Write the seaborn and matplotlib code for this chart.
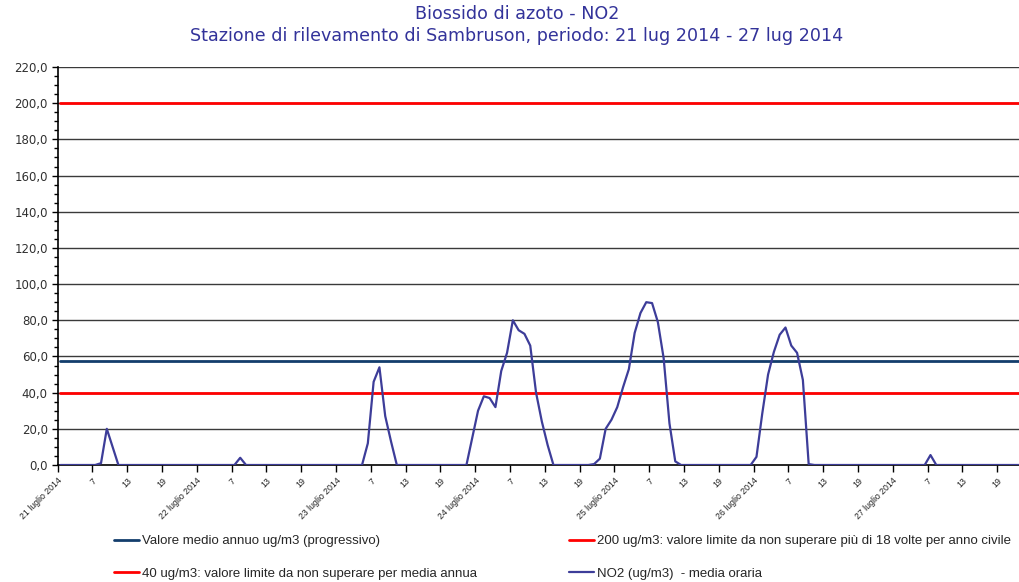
import numpy as np
import matplotlib
matplotlib.use("Agg")
import matplotlib.pyplot as plt
import seaborn as sns
from matplotlib.ticker import MultipleLocator, FixedLocator, FuncFormatter

# ---------------- data ----------------
title_1 = "Biossido di azoto - NO2"
title_2 = "Stazione di rilevamento di Sambruson, periodo: 21 lug 2014 - 27 lug 2014"

days = ["21 luglio 2014", "22 luglio 2014", "23 luglio 2014", "24 luglio 2014",
        "25 luglio 2014", "26 luglio 2014", "27 luglio 2014"]
hour_labels = ["7", "13", "19"]

# NO2 hourly means (ug/m3), one list per day (hours 1..24)
no2_21 = [0, 0, 0, 0, 0, 0, 0, 1, 20, 10, 0, 0, 0, 0, 0, 0, 0, 0, 0, 0, 0, 0, 0, 0]
no2_22 = [0, 0, 0, 0, 0, 0, 0, 4, 0, 0, 0, 0, 0, 0, 0, 0, 0, 0, 0, 0, 0, 0, 0, 0]
no2_23 = [0, 0, 0, 0, 0, 12, 46, 54, 27, 13, 0, 0, 0, 0, 0, 0, 0, 0, 0, 0, 0, 0, 0, 15]
no2_24 = [30, 38, 37, 32, 52, 62, 80, 74.5, 72.5, 66, 40, 24, 11, 0, 0, 0, 0, 0, 0, 0, 0.5, 3.5, 20, 25]
no2_25 = [32, 43, 53, 73, 84, 90, 89.5, 79, 59, 23, 2, 0, 0, 0, 0, 0, 0, 0, 0, 0, 0, 0, 0, 0]
no2_26 = [4.5, 28.5, 50, 62.5, 72, 76, 66, 62, 47, 0.5, 0, 0, 0, 0, 0, 0, 0, 0, 0, 0, 0, 0, 0, 0]
no2_27 = [0, 0, 0, 0, 0, 0, 5.5, 0, 0, 0, 0, 0, 0, 0, 0, 0, 0, 0, 0, 0, 0, 0, 0, 0]

media_annua = 57.6        # valore medio annuo progressivo
limite_orario = 200.0     # 200 ug/m3
limite_annuo = 40.0       # 40 ug/m3

label_media = "Valore medio annuo ug/m3 (progressivo)"
label_200 = "200 ug/m3: valore limite da non superare più di 18 volte per anno civile"
label_40 = "40 ug/m3: valore limite da non superare per media annua"
label_no2 = "NO2 (ug/m3)  - media oraria"

y_max = 220
y_step = 20

# ---------------- build ----------------
no2 = np.array(no2_21 + no2_22 + no2_23 + no2_24 + no2_25 + no2_26 + no2_27, dtype=float)
n = len(no2)
x = np.arange(n) + 0.5

sns.set_style("white")
plt.rcParams["font.family"] = ["DejaVu Sans"]

W, H = 1019, 582
fig = plt.figure(figsize=(W / 100, H / 100), dpi=100)
left_px, right_px, top_px, bottom_px = 57.5, 1032, 67, 465
ax = fig.add_axes([left_px / W, 1 - bottom_px / H, (right_px - left_px) / W, (bottom_px - top_px) / H])

C_MEAN = "#133d6c"
C_RED = "#ff0000"
C_NO2 = "#3d3d99"

for yv in range(y_step, y_max + 1, y_step):
    ax.axhline(yv, color="#3a3a3a", lw=1.0, zorder=1)

sns.lineplot(x=x, y=np.full(n, media_annua), ax=ax, color=C_MEAN, lw=2.0, label=label_media, zorder=3)
sns.lineplot(x=x, y=np.full(n, limite_orario), ax=ax, color=C_RED, lw=2.0, label=label_200, zorder=3)
sns.lineplot(x=x, y=np.full(n, limite_annuo), ax=ax, color=C_RED, lw=2.0, label=label_40, zorder=3)
sns.lineplot(x=x, y=no2, ax=ax, color=C_NO2, lw=1.6, label=label_no2, zorder=4)

ax.set_xlim(0, n)
ax.set_ylim(0, y_max)

# y axis
ax.yaxis.set_major_locator(MultipleLocator(y_step))
ax.yaxis.set_minor_locator(MultipleLocator(5))
ax.yaxis.set_major_formatter(FuncFormatter(lambda v, p: f"{v:.1f}".replace(".", ",")))
ax.tick_params(axis="y", which="major", direction="out", length=4, width=1, color="black",
               labelsize=8.5, labelcolor="#303030", pad=3, left=True)
ax.tick_params(axis="y", which="minor", direction="out", length=3, width=1, color="black", left=True)

# x axis
tick_pos = list(range(0, n, 6))
tick_lab = []
for d in days:
    tick_lab += [d] + hour_labels
ax.xaxis.set_major_locator(FixedLocator(tick_pos))
ax.set_xticklabels(tick_lab[:len(tick_pos)], rotation=45, ha="right", va="top",
                   rotation_mode="anchor", fontsize=6.3, family="Liberation Sans", color="#202020")
ax.tick_params(axis="x", which="major", direction="out", length=5, width=1, color="black",
               pad=3, bottom=True)

for s in ["top", "right"]:
    ax.spines[s].set_visible(False)
for s in ["left", "bottom"]:
    ax.spines[s].set_color("black")
    ax.spines[s].set_linewidth(1.2)
ax.set_xlabel("")
ax.set_ylabel("")

# legend in two columns
handles, labels = ax.get_legend_handles_labels()
ax.get_legend().remove()
hmap = dict(zip(labels, handles))
leg_kw = dict(frameon=False, handlelength=1.9, handletextpad=0.22,
              labelspacing=1.55, borderpad=0, borderaxespad=0, loc="center left",
              prop={"family": "Liberation Sans", "size": 9.5})
fig.legend([hmap[label_media], hmap[label_40]], [label_media, label_40],
           bbox_to_anchor=(114 / W, 1 - 557.5 / H), **leg_kw)
fig.legend([hmap[label_200], hmap[label_no2]], [label_200, label_no2],
           bbox_to_anchor=(569 / W, 1 - 557.5 / H), **leg_kw)

# titles
fig.text(517 / W, 1 - 14 / H, title_1, ha="center", va="center", fontsize=12.6, color="#33339a")
fig.text(517 / W, 1 - 36 / H, title_2, ha="center", va="center", fontsize=12.6, color="#33339a")

fig.savefig("out.png", dpi=100, facecolor="white")
